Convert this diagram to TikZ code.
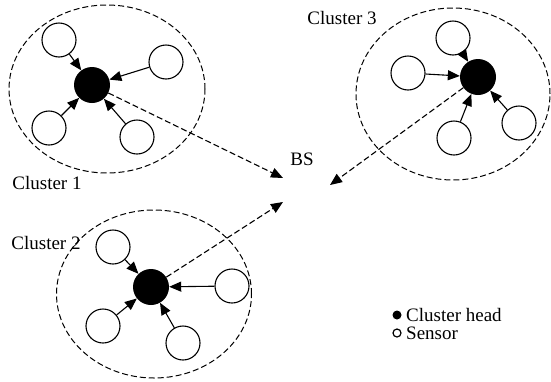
\documentclass[tikz,border=0pt]{standalone}
\usepackage{fontspec}
\setmainfont{Liberation Serif}
\usetikzlibrary{arrows.meta,shapes.geometric}
\begin{document}
\begin{tikzpicture}[x=1pt,y=-1pt,
  cluster/.style={ellipse,draw,dash pattern=on 6pt off 3pt,line width=1pt,inner sep=0pt},
  sensor/.style={circle,draw,line width=1.1pt,minimum size=34pt,inner sep=0pt},
  head/.style={circle,fill=black,minimum size=36pt,inner sep=0pt},
  link/.style={-{Triangle[length=12pt,width=10pt]},line width=1.1pt},
  tobs/.style={-{Triangle[length=12pt,width=10pt]},line width=1.1pt,dash pattern=on 6pt off 3pt},
  lbl/.style={font=\fontsize{19}{22}\selectfont,inner sep=0pt}]
\useasboundingbox (0,0) rectangle (551,381);
% cluster 1
\node[cluster,minimum width=196pt,minimum height=168pt] (c1) at (107,89) {};
\node[head] (h1) at (92,85) {};
\node[sensor] (s11) at (59,40) {};
\node[sensor] (s12) at (166,62) {};
\node[sensor] (s13) at (49,128) {};
\node[sensor] (s14) at (137,137) {};
\foreach \s in {s11,s12,s13,s14} \draw[link] (\s) -- (h1);
\node[lbl] (l1) at (47,183) {Cluster 1};
% cluster 3
\node[cluster,minimum width=194pt,minimum height=172pt] (c3) at (453,94) {};
\node[head] (h3) at (478,77) {};
\node[sensor] (s31) at (453,38) {};
\node[sensor] (s32) at (408,73) {};
\node[sensor] (s33) at (454,138) {};
\node[sensor] (s34) at (519,123) {};
\foreach \s in {s31,s32,s33,s34} \draw[link] (\s) -- (h3);
\node[lbl] (l3) at (342,18) {Cluster 3};
% cluster 2
\node[cluster,minimum width=195pt,minimum height=168pt] (c2) at (154,294) {};
\node[head] (h2) at (151,287) {};
\node[sensor] (s21) at (113,247) {};
\node[sensor] (s22) at (232,286) {};
\node[sensor] (s23) at (103,326) {};
\node[sensor] (s24) at (183,343) {};
\foreach \s in {s21,s22,s23,s24} \draw[link] (\s) -- (h2);
\node[lbl] (l2) at (46,243) {Cluster 2};
% BS
\node[lbl] (bs) at (302,159) {BS};
\coordinate (t1) at (283,178);
\coordinate (t2) at (283,202);
\coordinate (t3) at (330,185);
\draw[tobs] (h1) -- (t1);
\draw[tobs] (h2) -- (t2);
\draw[tobs] (h3) -- (t3);
% legend
\node[circle,fill=black,minimum size=9pt,inner sep=0pt] (lg1) at (397,315) {};
\node[circle,draw,line width=1.2pt,minimum size=8pt,inner sep=0pt] (lg2) at (397,333) {};
\node[lbl,anchor=west] (lt1) at (406,315) {Cluster head};
\node[lbl,anchor=west] (lt2) at (406,333) {Sensor};
\end{tikzpicture}
\end{document}
